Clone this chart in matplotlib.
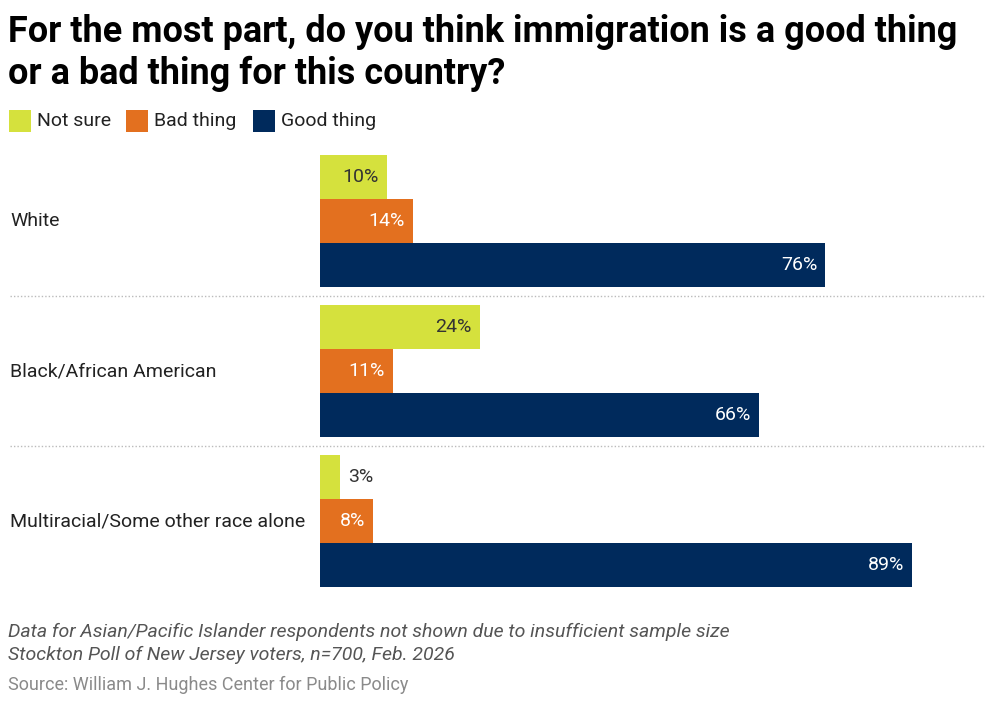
import matplotlib
matplotlib.use('Agg')
import matplotlib.pyplot as plt
from matplotlib.patches import Rectangle
from matplotlib.transforms import blended_transform_factory

# data
groups = ['White', 'Black/African American', 'Multiracial/Some other race alone']
series = ['Not sure', 'Bad thing', 'Good thing']
not_sure = [10, 24, 3]
bad_thing = [14, 11, 8]
good_thing = [76, 66, 89]

lime = '#D5E13D'
orange = '#E3701F'
navy = '#002A5C'
colors = [lime, orange, navy]
label_colors = ['#333333', 'white', 'white']

plt.rcParams['font.family'] = ['Roboto', 'DejaVu Sans']

W, H = 999, 708
fig = plt.figure(figsize=(W / 100, H / 100), dpi=100)

# axes placed in pixel terms: bars from x=320 (0%) to x=985 (100%)
ax_left, ax_right = 320, 985
ax_top, ax_bot = 155, 587
ax = fig.add_axes([ax_left / W, 1 - ax_bot / H, (ax_right - ax_left) / W, (ax_bot - ax_top) / H])

bar_h = 44 / 150
offsets = [-bar_h, 0, bar_h]
values = [not_sure, bad_thing, good_thing]
px = 100 / (ax_right - ax_left)  # one pixel in data units

for si, (vals, col, lcol) in enumerate(zip(values, colors, label_colors)):
    ys = [g + offsets[si] for g in range(len(groups))]
    ax.barh(ys, vals, height=bar_h, color=col, edgecolor='none')
    for y, v in zip(ys, vals):
        if v < 5:
            ax.text(v + 8 * px, y, f'{v}%', ha='left', va='center',
                    fontsize=14, color='#333333')
        else:
            ax.text(v - 8 * px, y, f'{v}%', ha='right', va='center',
                    fontsize=14, color=lcol)

ax.set_xlim(0, 100)
ax.set_ylim(len(groups) - 1 + 1.5 * bar_h, -1.5 * bar_h)
ax.axis('off')

# group labels on the left edge of the figure
trans = blended_transform_factory(fig.transFigure, ax.transData)
for g, name in enumerate(groups):
    ax.text(10 / W, g, name, transform=trans, ha='left', va='center',
            fontsize=14, color='#222222')

# dotted separators between groups
for g in range(len(groups) - 1):
    ax.plot([10 / W, 985 / W], [g + 0.5, g + 0.5], transform=trans,
            color='#bbbbbb', linestyle=(0, (1, 1.5)), linewidth=1, clip_on=False)

# title
fig.text(8 / W, 1 - 42 / H, 'For the most part, do you think immigration is a good thing',
         fontsize=25.9, fontweight='bold', color='black', ha='left', va='baseline')
fig.text(8 / W, 1 - 84 / H, 'or a bad thing for this country?',
         fontsize=25.9, fontweight='bold', color='black', ha='left', va='baseline')

# legend
leg_x = [9, 126, 253]
for x, name, col in zip(leg_x, series, colors):
    fig.patches.append(Rectangle((x / W, 1 - 132 / H), 22 / W, 22 / H,
                                 transform=fig.transFigure, facecolor=col, edgecolor='none'))
    fig.text((x + 28) / W, 1 - 121 / H, name, fontsize=14, color='#222222',
             ha='left', va='center')

# notes
fig.text(8 / W, 1 - 632 / H,
         'Data for Asian/Pacific Islander respondents not shown due to insufficient sample size',
         fontsize=14, style='italic', color='#555555', ha='left', va='center')
fig.text(8 / W, 1 - 655 / H, 'Stockton Poll of New Jersey voters, n=700, Feb. 2026',
         fontsize=14, style='italic', color='#555555', ha='left', va='center')
fig.text(8 / W, 1 - 685 / H, 'Source: William J. Hughes Center for Public Policy',
         fontsize=13, color='#8a8a8a', ha='left', va='center')

fig.savefig('out.png', dpi=100, facecolor='white')
